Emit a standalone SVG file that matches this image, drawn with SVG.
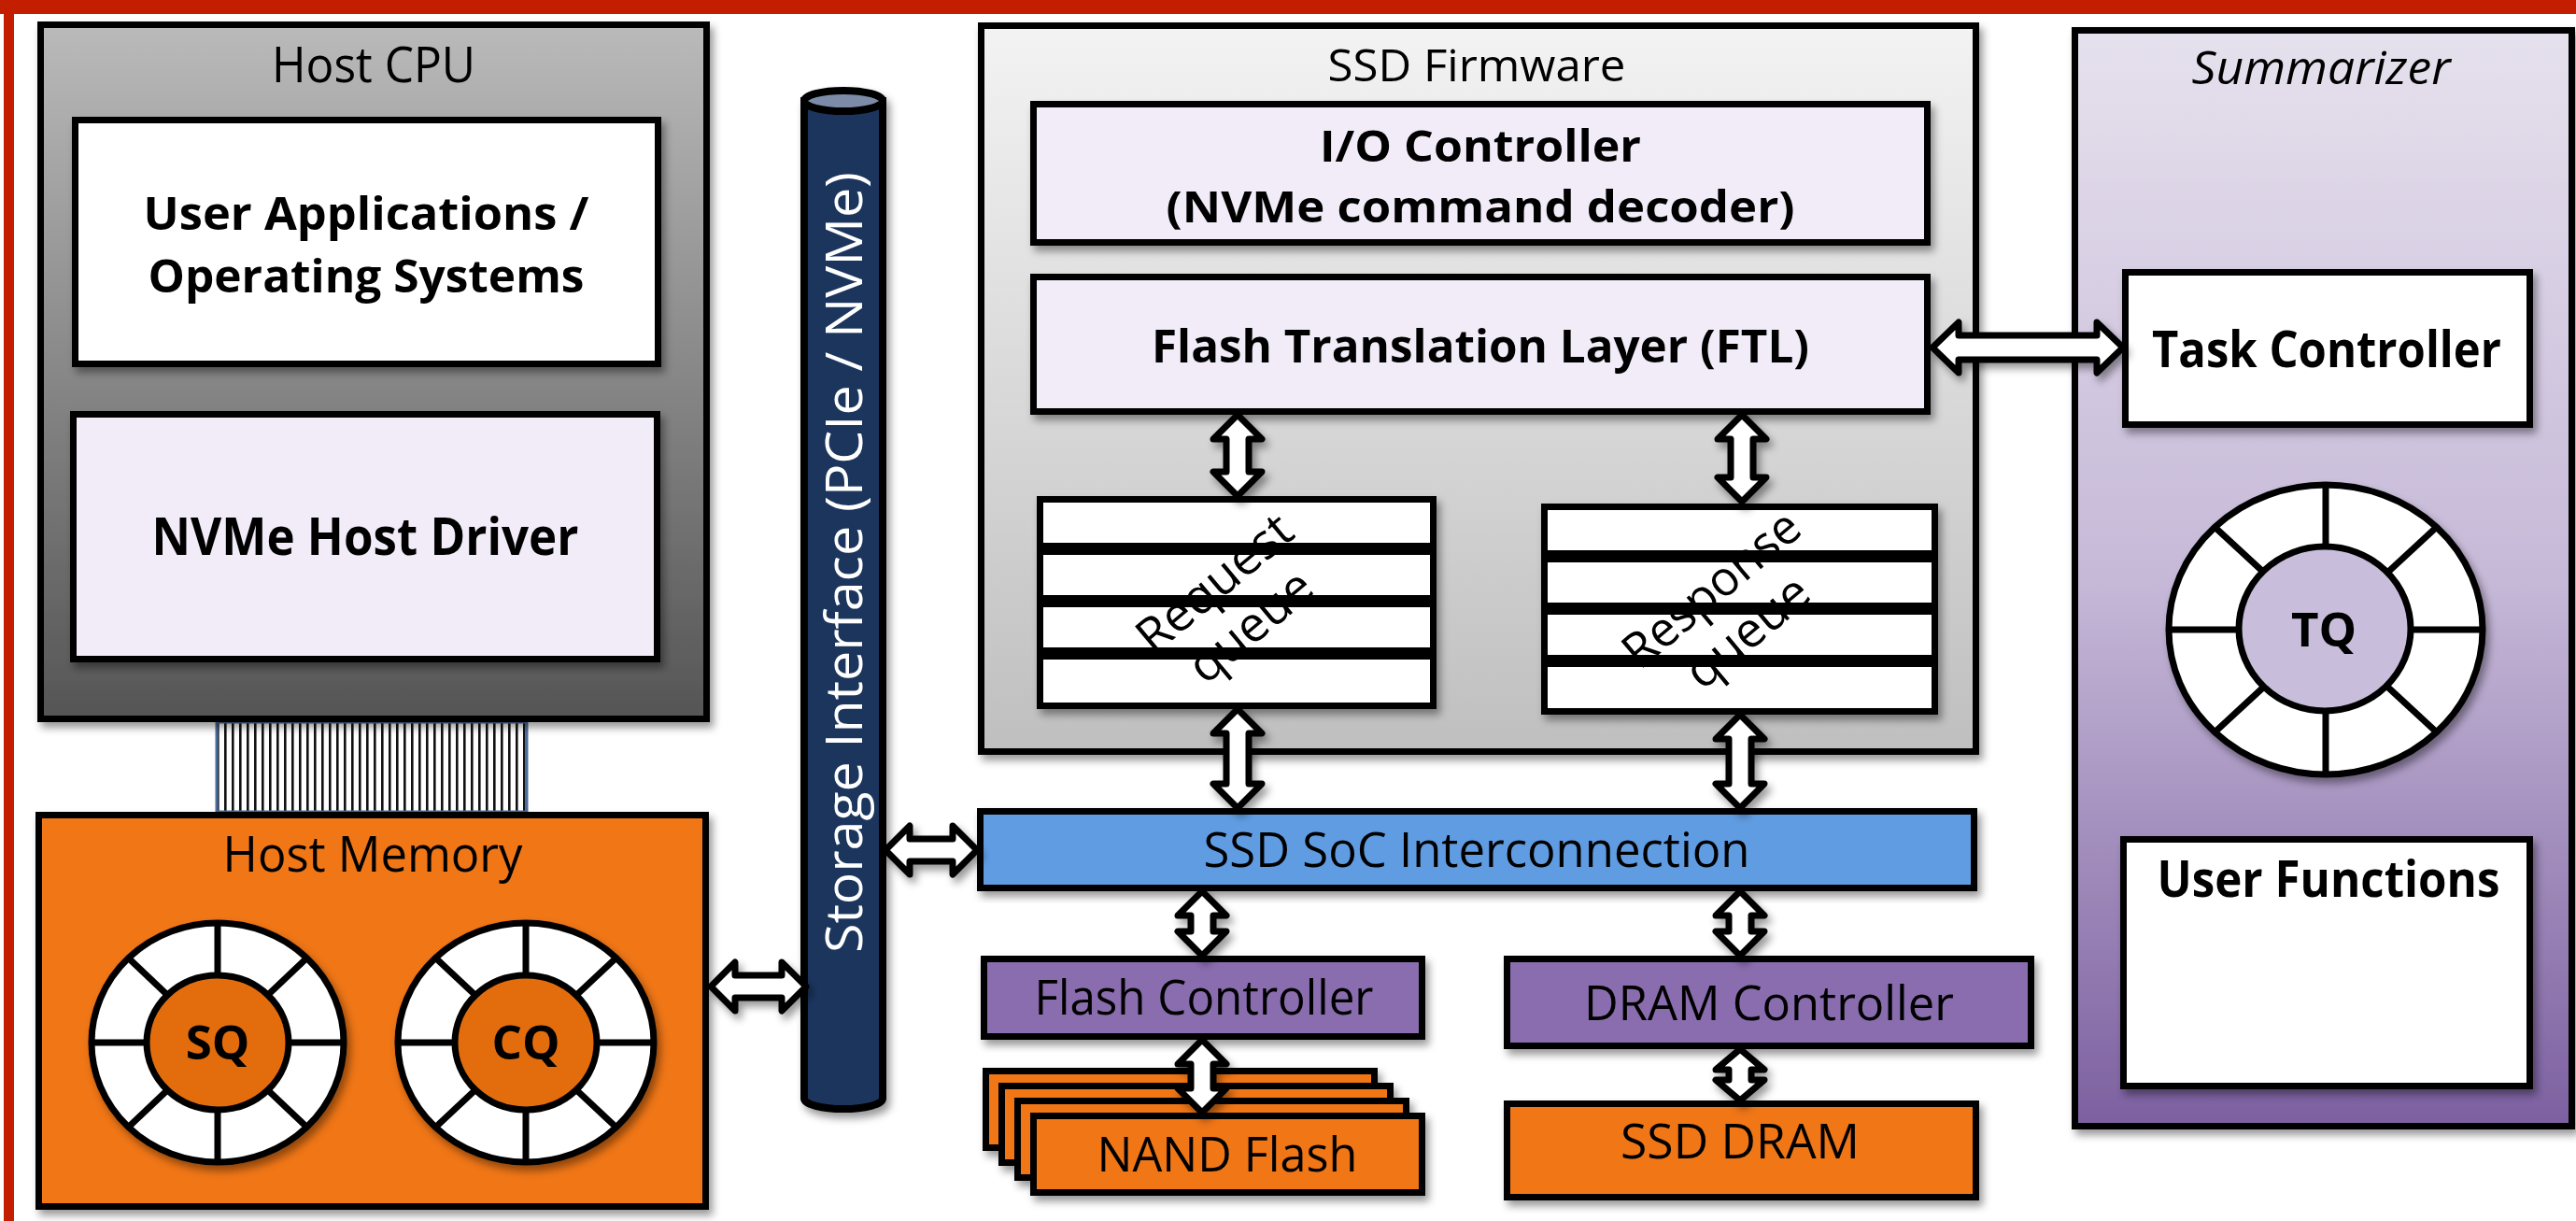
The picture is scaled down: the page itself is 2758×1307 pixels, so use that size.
<svg xmlns="http://www.w3.org/2000/svg" width="2758" height="1307" viewBox="0 0 2758 1307">
<style>
.box{stroke:#000;stroke-width:7}
.t{font-family:'Open Sans','Noto Sans','Liberation Sans',sans-serif;fill:#000;text-anchor:middle}
.b{font-weight:bold}
.arr{fill:#fff;stroke:#000;stroke-width:7;stroke-linejoin:round}
.ring{stroke:#000;stroke-width:7}
.sp{stroke:#000;stroke-width:7}
</style>
<defs>
<filter id="sh" x="-10%" y="-10%" width="130%" height="130%">
<feDropShadow dx="4" dy="6" stdDeviation="4" flood-color="#000" flood-opacity="0.4"/>
</filter>
<linearGradient id="gCpu" x1="0" y1="0" x2="0" y2="1"><stop offset="0" stop-color="#bababa"/><stop offset="1" stop-color="#555555"/></linearGradient>
<linearGradient id="gFw" x1="0" y1="0" x2="0" y2="1"><stop offset="0" stop-color="#f3f3f3"/><stop offset="1" stop-color="#bfbfbf"/></linearGradient>
<linearGradient id="gSum" x1="0" y1="0" x2="0" y2="1"><stop offset="0" stop-color="#e6e1ed"/><stop offset="0.5" stop-color="#c6b9d8"/><stop offset="1" stop-color="#7c60a0"/></linearGradient>
<pattern id="stripes" x="232" y="0" width="8" height="10" patternUnits="userSpaceOnUse">
<rect width="8" height="10" fill="#fff"/><rect x="0" width="2.6" height="10" fill="#111"/>
</pattern>
</defs>

<rect x="0" y="0" width="2758" height="15" fill="#c41e00"/>
<rect x="4" y="0" width="11" height="1307" fill="#c41e00"/>

<g id="ribbon">
<rect x="232" y="773" width="332" height="96" fill="url(#stripes)"/>
<rect x="232" y="773" width="332" height="96" fill="none" stroke="#4a6c9c" stroke-width="3"/>
</g>

<g id="host-cpu" filter="url(#sh)">
<rect class="box" x="43.5" y="26.5" width="713" height="743" fill="url(#gCpu)"/>
<text class="t" x="400" y="88" font-size="53" textLength="218" lengthAdjust="spacingAndGlyphs">Host CPU</text>
</g>
<g id="user-apps" filter="url(#sh)">
<rect class="box" x="80.5" y="128.5" width="624" height="261" fill="#fff"/>
<text class="t b" x="392" y="246" font-size="49" textLength="477" lengthAdjust="spacingAndGlyphs">User Applications /</text>
<text class="t b" x="392" y="313" font-size="49" textLength="467" lengthAdjust="spacingAndGlyphs">Operating Systems</text>
</g>
<g id="nvme-driver" filter="url(#sh)">
<rect class="box" x="78.5" y="443.5" width="625" height="262" fill="#f1ecf8"/>
<text class="t b" x="391" y="594" font-size="55" textLength="457" lengthAdjust="spacingAndGlyphs">NVMe Host Driver</text>
</g>

<g id="host-memory" filter="url(#sh)">
<rect class="box" x="41.5" y="872.5" width="714" height="419" fill="#f07613"/>
<text class="t" x="399" y="933" font-size="53" textLength="321" lengthAdjust="spacingAndGlyphs">Host Memory</text>
</g>
<g id="sq" filter="url(#sh)">
<ellipse class="ring" cx="233" cy="1116" rx="135" ry="128" fill="#fff"/>
<line class="sp" x1="233" y1="988" x2="233" y2="1244"/>
<line class="sp" x1="98" y1="1116" x2="368" y2="1116"/>
<line class="sp" x1="138" y1="1026" x2="328" y2="1206"/>
<line class="sp" x1="328" y1="1026" x2="138" y2="1206"/>
<ellipse class="ring" cx="233" cy="1116" rx="76" ry="72" fill="#e36d0c"/>
<text class="t b" x="233" y="1134" font-size="51">SQ</text>
</g>
<g id="cq" filter="url(#sh)">
<ellipse class="ring" cx="563" cy="1116" rx="137" ry="128" fill="#fff"/>
<line class="sp" x1="563" y1="988" x2="563" y2="1244"/>
<line class="sp" x1="426" y1="1116" x2="700" y2="1116"/>
<line class="sp" x1="467" y1="1026" x2="659" y2="1206"/>
<line class="sp" x1="659" y1="1026" x2="467" y2="1206"/>
<ellipse class="ring" cx="563" cy="1116" rx="76" ry="72" fill="#e36d0c"/>
<text class="t b" x="563" y="1134" font-size="51">CQ</text>
</g>

<g id="storage-interface" filter="url(#sh)">
<path d="M861,108 L861,1176 A42,11 0 0 0 945,1176 L945,108 Z" fill="#1b365d" stroke="#000" stroke-width="8"/>
<ellipse cx="903" cy="108" rx="42" ry="11" fill="#7b8ba8" stroke="#000" stroke-width="8"/>
<text class="t" transform="translate(923,602) rotate(-90)" font-size="54" style="fill:#fff" textLength="836" lengthAdjust="spacingAndGlyphs">Storage Interface (PCIe / NVMe)</text>
</g>

<g id="ssd-firmware" filter="url(#sh)">
<rect class="box" x="1050.5" y="27.5" width="1065" height="777" fill="url(#gFw)"/>
<text class="t" x="1581" y="87" font-size="47" textLength="319" lengthAdjust="spacingAndGlyphs">SSD Firmware</text>
</g>
<g id="io-controller" filter="url(#sh)">
<rect class="box" x="1106.5" y="111.5" width="957" height="148" fill="#f1ecf8"/>
<text class="t b" x="1585" y="173" font-size="47" textLength="344" lengthAdjust="spacingAndGlyphs">I/O Controller</text>
<text class="t b" x="1585" y="238" font-size="47" textLength="673" lengthAdjust="spacingAndGlyphs">(NVMe command decoder)</text>
</g>
<g id="ftl" filter="url(#sh)">
<rect class="box" x="1106.5" y="296.5" width="957" height="144" fill="#f1ecf8"/>
<text class="t b" x="1585" y="388" font-size="48" textLength="704" lengthAdjust="spacingAndGlyphs">Flash Translation Layer (FTL)</text>
</g>
<g id="request-queue" filter="url(#sh)">
<rect class="box" x="1113.5" y="534.5" width="421" height="50" fill="#fff"/>
<rect class="box" x="1113.5" y="590.5" width="421" height="50" fill="#fff"/>
<rect class="box" x="1113.5" y="646.5" width="421" height="50" fill="#fff"/>
<rect class="box" x="1113.5" y="702.5" width="421" height="53" fill="#fff"/>
<g transform="translate(1331,661) rotate(-40)">
<text class="t" x="0" y="-30" font-size="52" textLength="200" lengthAdjust="spacingAndGlyphs">Request</text>
<text class="t" x="0" y="30" font-size="52" textLength="156" lengthAdjust="spacingAndGlyphs">queue</text>
</g>
</g>
<g id="response-queue" filter="url(#sh)">
<rect class="box" x="1653.5" y="542.5" width="418" height="50" fill="#fff"/>
<rect class="box" x="1653.5" y="598.5" width="418" height="50" fill="#fff"/>
<rect class="box" x="1653.5" y="654.5" width="418" height="50" fill="#fff"/>
<rect class="box" x="1653.5" y="710.5" width="418" height="51" fill="#fff"/>
<g transform="translate(1863,667) rotate(-40)">
<text class="t" x="0" y="-30" font-size="52" textLength="230" lengthAdjust="spacingAndGlyphs">Response</text>
<text class="t" x="0" y="30" font-size="52" textLength="156" lengthAdjust="spacingAndGlyphs">queue</text>
</g>
</g>

<g id="soc-interconnection" filter="url(#sh)">
<rect class="box" x="1049.5" y="868.5" width="1064" height="82" fill="#5e9ce2"/>
<text class="t" x="1581" y="928" font-size="51" textLength="585" lengthAdjust="spacingAndGlyphs">SSD SoC Interconnection</text>
</g>
<g id="flash-controller" filter="url(#sh)">
<rect class="box" x="1053.5" y="1026.5" width="469" height="83" fill="#8a6dae"/>
<text class="t" x="1289" y="1086" font-size="51" textLength="363" lengthAdjust="spacingAndGlyphs">Flash Controller</text>
</g>
<g id="dram-controller" filter="url(#sh)">
<rect class="box" x="1613.5" y="1026.5" width="561" height="93" fill="#8a6dae"/>
<text class="t" x="1894" y="1092" font-size="52" textLength="396" lengthAdjust="spacingAndGlyphs">DRAM Controller</text>
</g>
<g id="nand-flash" filter="url(#sh)">
<rect class="box" x="1055.5" y="1146.5" width="416" height="82" fill="#f07613"/>
<rect class="box" x="1072.5" y="1162.5" width="416" height="82" fill="#f07613"/>
<rect class="box" x="1089.5" y="1178.5" width="416" height="82" fill="#f07613"/>
<rect class="box" x="1106.5" y="1194.5" width="416" height="82" fill="#f07613"/>
<text class="t" x="1314" y="1254" font-size="51" textLength="279" lengthAdjust="spacingAndGlyphs">NAND Flash</text>
</g>
<g id="ssd-dram" filter="url(#sh)">
<rect class="box" x="1613.5" y="1181.5" width="502" height="100" fill="#f07613"/>
<text class="t" x="1863" y="1240" font-size="52" textLength="256" lengthAdjust="spacingAndGlyphs">SSD DRAM</text>
</g>

<g id="summarizer" filter="url(#sh)">
<rect class="box" x="2221.5" y="32.5" width="532" height="1173" fill="url(#gSum)"/>
<text class="t" x="2485" y="90" font-size="49" font-style="italic" textLength="277" lengthAdjust="spacingAndGlyphs">Summarizer</text>
</g>
<g id="task-controller" filter="url(#sh)">
<rect class="box" x="2275.5" y="291.5" width="433" height="163" fill="#fff"/>
<text class="t b" x="2491" y="393" font-size="54" textLength="374" lengthAdjust="spacingAndGlyphs">Task Controller</text>
</g>
<g id="tq" filter="url(#sh)">
<ellipse class="ring" cx="2490" cy="674" rx="168" ry="155" fill="#fff"/>
<line class="sp" x1="2490" y1="519" x2="2490" y2="829"/>
<line class="sp" x1="2322" y1="674" x2="2658" y2="674"/>
<line class="sp" x1="2371" y1="564" x2="2609" y2="784"/>
<line class="sp" x1="2609" y1="564" x2="2371" y2="784"/>
<ellipse class="ring" cx="2489" cy="673" rx="92" ry="88" fill="#c8bdda"/>
<text class="t b" x="2488" y="692" font-size="51">TQ</text>
</g>
<g id="user-functions" filter="url(#sh)">
<rect class="box" x="2273.5" y="898.5" width="435" height="264" fill="#fff"/>
<text class="t b" x="2493" y="960" font-size="54" textLength="367" lengthAdjust="spacingAndGlyphs">User Functions</text>
</g>

<g id="connectors" filter="url(#sh)">
<path class="arr" d="M761,1056 L787,1030 L787,1044 L837,1044 L837,1030 L863,1056 L837,1082 L837,1068 L787,1068 L787,1082 Z"/>
<path class="arr" d="M948,910 L974,884 L974,898 L1020,898 L1020,884 L1046,910 L1020,936 L1020,922 L974,922 L974,936 Z"/>
<path class="arr" d="M2069,372 L2097,345 L2097,359 L2245,359 L2245,345 L2273,372 L2245,399 L2245,385 L2097,385 L2097,399 Z"/>
<path class="arr" d="M1325,444 L1351,470 L1337,470 L1337,505 L1351,505 L1325,531 L1299,505 L1313,505 L1313,470 L1299,470 Z"/>
<path class="arr" d="M1865,444 L1891,470 L1877,470 L1877,511 L1891,511 L1865,537 L1839,511 L1853,511 L1853,470 L1839,470 Z"/>
<path class="arr" d="M1325,759 L1351,785 L1337,785 L1337,839 L1351,839 L1325,865 L1299,839 L1313,839 L1313,785 L1299,785 Z"/>
<path class="arr" d="M1863,765 L1889,791 L1875,791 L1875,839 L1889,839 L1863,865 L1837,839 L1851,839 L1851,791 L1837,791 Z"/>
<path class="arr" d="M1287,954 L1313,980 L1299,980 L1299,997 L1313,997 L1287,1023 L1261,997 L1275,997 L1275,980 L1261,980 Z"/>
<path class="arr" d="M1863,954 L1889,980 L1875,980 L1875,997 L1889,997 L1863,1023 L1837,997 L1851,997 L1851,980 L1837,980 Z"/>
<path class="arr" d="M1287,1113 L1313,1139 L1299,1139 L1299,1165 L1313,1165 L1287,1191 L1261,1165 L1275,1165 L1275,1139 L1261,1139 Z"/>
<path class="arr" d="M1863,1123 L1889,1145 L1875,1145 L1875,1156 L1889,1156 L1863,1178 L1837,1156 L1851,1156 L1851,1145 L1837,1145 Z"/>
</g>
</svg>
